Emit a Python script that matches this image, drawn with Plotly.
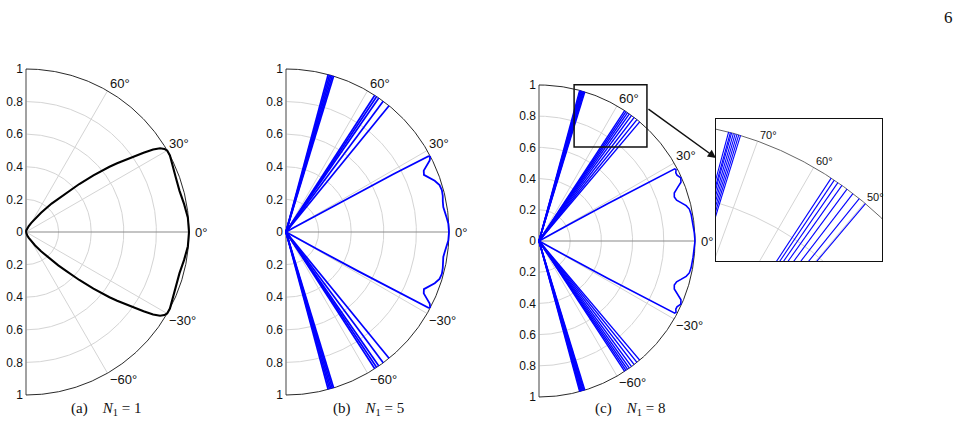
import numpy as np
import plotly.graph_objects as go

W, H = 960, 433

# ---------------- data ----------------
# (a) N1 = 1 : pattern radius vs angle (deg), symmetric about 0 deg
theta_a = [0, 5, 10, 15, 20, 25, 28, 30, 31, 32, 33, 34, 35, 36, 37, 38, 39, 40,
           42, 44, 46, 48, 52, 56, 60, 65, 70, 80, 90]
r_a = [1.0, 0.997, 0.985, 0.975, 0.978, 0.99, 1.0, 1.0, 0.99, 0.97, 0.93, 0.87,
       0.81, 0.75, 0.70, 0.65, 0.595, 0.54, 0.44, 0.345, 0.285, 0.235, 0.15,
       0.10, 0.065, 0.04, 0.025, 0.01, 0.0]

# (b) N1 = 5 : main lobe and narrow grating rays
theta_b = [0, 3, 5, 7, 9, 11, 13, 15, 17, 19, 21, 22.5, 24, 25.5, 26.5, 27.5,
           28.0, 28.3, 28.5, 28.8, 29.2, 30]
r_b = [1.0, 0.997, 0.99, 0.982, 0.977, 0.98, 0.987, 0.99, 0.985, 0.965, 0.935,
       0.916, 0.925, 0.96, 0.985, 0.997, 0.99, 0.75, 0.5, 0.22, 0.05, 0.0]
rays_b = [73.0, 73.5, 74.0, 74.5, 75.0, 50.8, 53.4, 55.3, 56.2, 57.0]

# (c) N1 = 8
theta_c = [0, 3, 6, 10, 12, 13.5, 15, 16.5, 18, 19.5, 21, 22.5, 24, 25.5, 26.5,
           27.5, 28.0, 28.3, 28.5, 28.8, 29.2, 30]
r_c = [1.0, 0.997, 0.993, 0.99, 0.985, 0.97, 0.945, 0.92, 0.912, 0.92, 0.95,
       0.985, 0.995, 0.98, 0.98, 0.99, 0.985, 0.75, 0.5, 0.22, 0.05, 0.0]
rays_c = [72.9, 73.2, 73.5, 73.8, 74.1, 74.4, 74.6, 74.9,
          49.8, 51.1, 52.4, 53.6, 54.6, 55.4, 56.1, 56.7]

# grid / labels
grid_r = [0.2, 0.4, 0.6, 0.8]
spoke_deg = [-60, -30, 30, 60]
angle_ticks = [60, 30, 0, -30, -60]
angle_text = ["60°", "30°", "0°", "−30°", "−60°"]
r_tickvals = [-1, -0.8, -0.6, -0.4, -0.2, 0, 0.2, 0.4, 0.6, 0.8, 1]
r_ticktext = ["1", "0.8", "0.6", "0.4", "0.2", "0", "0.2", "0.4", "0.6", "0.8", "1"]
inset_spokes = [50, 60, 70]
inset_arcs = [0.8]
inset_ticks = [70, 60, 50]
captions = ["(a)", "(b)", "(c)"]
n1_values = [1, 5, 8]

# ---------------- layout geometry (pixels) ----------------
panels = [
    dict(cx=26, cy=232, R=163, xpx=(6, 232), ypx=(58, 405), cap_x=106),
    dict(cx=286, cy=232, R=163, xpx=(266, 492), ypx=(58, 405), cap_x=368),
    dict(cx=539, cy=241, R=156, xpx=(519, 712), ypx=(68, 405), cap_x=630),
]
cap_y = 409
inset_px = (716, 882, 119, 261)   # left, right, top, bottom
inset_scale = 355.5
inset_x0, inset_y1 = 0.225, 1.002
inset_xr = [inset_x0, inset_x0 + (inset_px[1] - inset_px[0]) / inset_scale]
inset_yr = [inset_y1 - (inset_px[3] - inset_px[2]) / inset_scale, inset_y1]

LIGHT = "#d4d4d4"
MID = "#8a8a8a"
BLUE = "#0000ff"


def pol(r, deg):
    t = np.deg2rad(np.asarray(deg, dtype=float))
    return np.asarray(r) * np.cos(t), np.asarray(r) * np.sin(t)


def mirrored(theta, r):
    th = [-t for t in reversed(theta)] + list(theta[1:])
    rr = list(reversed(r)) + list(r[1:])
    return th, rr


def arcs_xy(radii, a0=-90, a1=90):
    xs, ys = [], []
    ang = np.linspace(a0, a1, 361)
    for rv in radii:
        x, y = pol(np.full_like(ang, rv), ang)
        xs += list(x) + [None]
        ys += list(y) + [None]
    return xs, ys


def spokes_xy(degs, r0=0.0, r1=1.0):
    xs, ys = [], []
    for d in degs:
        x, y = pol([r0, r1], [d, d])
        xs += list(x) + [None]
        ys += list(y) + [None]
    return xs, ys


fig = go.Figure()


def add_line(xs, ys, color, width, ax):
    fig.add_trace(go.Scatter(x=xs, y=ys, mode="lines", hoverinfo="skip",
                             line=dict(color=color, width=width),
                             xaxis="x" + ax, yaxis="y" + ax, showlegend=False))


def add_grid(ax):
    add_line(*arcs_xy(grid_r), LIGHT, 1, ax)
    add_line(*spokes_xy(spoke_deg), LIGHT, 1, ax)
    add_line(*spokes_xy([0]), MID, 1.2, ax)
    add_line(*spokes_xy([90, -90]), MID, 1.6, ax)
    add_line(*arcs_xy([1.0]), "#111111", 0.9, ax)


def rays_xy(rays):
    allr = list(rays) + [-a for a in rays]
    return spokes_xy(allr)


axis_ids = ["", "2", "3"]
for i, p in enumerate(panels):
    add_grid(axis_ids[i])

# (a) curve
tha, rra = mirrored(theta_a, r_a)
xa, ya = pol(rra, tha)
add_line(list(xa), list(ya), "#000000", 2.1, "")

# (b)
thb, rrb = mirrored(theta_b, r_b)
xb, yb = pol(rrb, thb)
add_line(list(xb), list(yb), BLUE, 1.8, "2")
add_line(*rays_xy(rays_b), BLUE, 1.7, "2")

# (c)
thc, rrc = mirrored(theta_c, r_c)
xc, yc = pol(rrc, thc)
add_line(list(xc), list(yc), BLUE, 1.6, "3")
add_line(*rays_xy(rays_c), BLUE, 1.4, "3")

# inset
add_line(*arcs_xy(inset_arcs, 0, 90), LIGHT, 1, "4")
add_line(*spokes_xy(inset_spokes), LIGHT, 1, "4")
add_line(*arcs_xy([1.0], 0, 90), "#666666", 1, "4")
add_line(*rays_xy(rays_c), BLUE, 1.1, "4")

layout = dict(width=W, height=H, margin=dict(l=0, r=0, t=0, b=0),
              plot_bgcolor="white", paper_bgcolor="white", showlegend=False)

annotations = []
for i, p in enumerate(panels):
    sfx = axis_ids[i]
    cx, cy, R = p["cx"], p["cy"], p["R"]
    x0, x1 = p["xpx"]
    y0, y1 = p["ypx"]
    layout["xaxis" + sfx] = dict(domain=[x0 / W, x1 / W],
                                 range=[(x0 - cx) / R, (x1 - cx) / R],
                                 visible=False, fixedrange=True)
    layout["yaxis" + sfx] = dict(domain=[1 - y1 / H, 1 - y0 / H],
                                 range=[(cy - y1) / R, (cy - y0) / R],
                                 anchor="free", position=cx / W,
                                 tickvals=r_tickvals, ticktext=r_ticktext,
                                 showgrid=False, zeroline=False, showline=False,
                                 ticks="", ticklabelstandoff=3,
                                 tickfont=dict(family="Liberation Sans", size=12,
                                               color="#111111"),
                                 fixedrange=True)
    xr = "x" + sfx
    yr = "y" + sfx
    for a, txt in zip(angle_ticks, angle_text):
        ax_, ay_ = pol(1.0, a)
        if a > 0:
            ya_, ys = "bottom", -2
        elif a < 0:
            ya_, ys = "top", 3
        else:
            ya_, ys = "middle", 0
        annotations.append(dict(x=float(ax_), y=float(ay_), xref=xr, yref=yr,
                                text=txt, showarrow=False, xanchor="left",
                                yanchor=ya_, yshift=ys, xshift=(4 if a == 0 else 0),
                                font=dict(family="Liberation Sans", size=13,
                                          color="#111111")))
    annotations.append(dict(x=p["cap_x"] / W, y=1 - cap_y / H, xref="paper", yref="paper",
                            text=captions[i] + "\u00a0\u00a0\u00a0\u00a0<i>N</i><sub>1</sub> = "
                            + str(n1_values[i]),
                            showarrow=False, xanchor="center", yanchor="middle",
                            font=dict(family="Liberation Serif", size=15, color="#111111")))

layout["xaxis4"] = dict(domain=[inset_px[0] / W, inset_px[1] / W], range=inset_xr,
                        showline=True, mirror=True, linecolor="#111111", linewidth=1.2,
                        showticklabels=False, ticks="", showgrid=False, zeroline=False,
                        anchor="y4", fixedrange=True)
layout["yaxis4"] = dict(domain=[1 - inset_px[3] / H, 1 - inset_px[2] / H], range=inset_yr,
                        showline=True, mirror=True, linecolor="#111111", linewidth=1.2,
                        showticklabels=False, ticks="", showgrid=False, zeroline=False,
                        anchor="x4", fixedrange=True)

for a in inset_ticks:
    ax_, ay_ = pol(1.0, a)
    annotations.append(dict(x=float(ax_), y=float(ay_), xref="x4", yref="y4",
                            text=f"{a}°", showarrow=False, xanchor="left",
                            yanchor="bottom", yshift=-2,
                            font=dict(family="Liberation Sans", size=11, color="#111111")))

# zoom rectangle in (c) and arrow to inset
pc = panels[2]
shapes = [dict(type="rect", xref="x3", yref="y3", x0=inset_xr[0], x1=inset_xr[1],
               y0=inset_yr[0], y1=inset_yr[1], line=dict(color="#111111", width=1.5))]
tail_px = (pc["cx"] + inset_xr[1] * pc["R"], pc["cy"] - 0.853 * pc["R"])
head_px = (inset_px[0], inset_px[2] + 39)
annotations.append(dict(x=head_px[0] / W, y=1 - head_px[1] / H, xref="paper", yref="paper",
                        ax=tail_px[0] - head_px[0], ay=tail_px[1] - head_px[1],
                        axref="pixel", ayref="pixel", showarrow=True, arrowhead=2,
                        arrowsize=1.1, arrowwidth=1.5, arrowcolor="#111111", text="",
                        standoff=0))

annotations.append(dict(x=948 / W, y=1 - 17 / H, xref="paper", yref="paper", text="6",
                        showarrow=False, xanchor="center", yanchor="middle",
                        font=dict(family="Liberation Serif", size=17, color="#111111")))

layout["annotations"] = annotations
layout["shapes"] = shapes
fig.update_layout(**layout)
fig.write_html("out.html")
